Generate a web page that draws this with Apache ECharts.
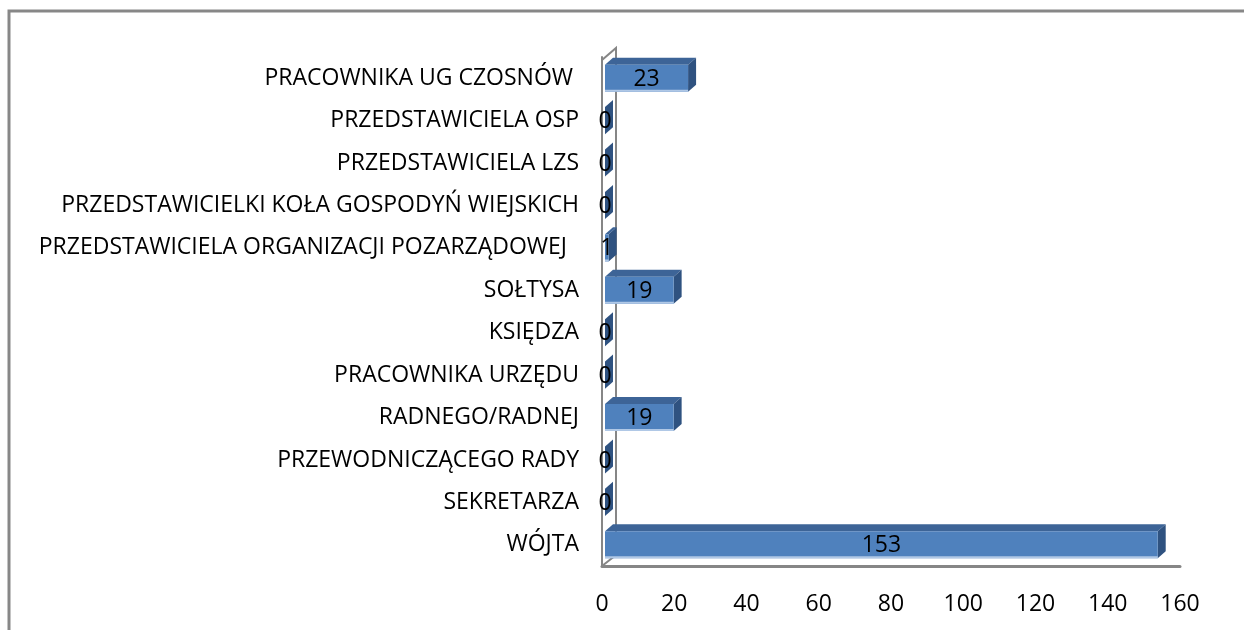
<!DOCTYPE html>
<html>
<head>
<meta charset="utf-8">
<script src="https://cdn.jsdelivr.net/npm/echarts@6/dist/echarts.min.js"></script>
<style>html,body{margin:0;padding:0;background:#fff;}#c{width:1244px;height:630px;}</style>
</head>
<body>
<div id="c"></div>
<script>
const categories = ['WÓJTA','SEKRETARZA','PRZEWODNICZĄCEGO RADY','RADNEGO/RADNEJ','PRACOWNIKA URZĘDU','KSIĘDZA','SOŁTYSA','PRZEDSTAWICIELA ORGANIZACJI POZARZĄDOWEJ  ','PRZEDSTAWICIELKI KOŁA GOSPODYŃ WIEJSKICH','PRZEDSTAWICIELA LZS','PRZEDSTAWICIELA OSP','PRACOWNIKA UG CZOSNÓW '];
const values = [153,0,0,19,0,0,19,1,0,0,0,23];
const xTicks = {min:0, max:160, interval:20};

const chart = echarts.init(document.getElementById('c'));
const FONT = 'Open Sans';
const FS = 23;
const GRAY = '#868686';
const dx = 8, dy = 7;

function renderItem(params, api) {
  const cat = api.value(1), val = api.value(0);
  const s = api.coord([0, cat]);
  const e = api.coord([val, cat]);
  const band = api.size([0, 1])[1];
  const h = band * 0.64;
  const x0 = s[0] + 3, x1 = e[0] + 3;
  const yc = s[1];
  const yT = yc - h / 2, yB = yc + h / 2;
  const children = [];
  if (params.dataIndex === 0) {
    const cs = params.coordSys;
    const left = cs.x, top = cs.y, bottom = cs.y + cs.height;
    children.push({type:'polyline', silent:true, shape:{points:[[left, top+3],[left+14, top-9],[left+14, bottom-11],[left, bottom]]}, style:{stroke:GRAY, lineWidth:2, fill:null}});
  }
  children.push({type:'polygon', shape:{points:[[x0,yT],[x1,yT],[x1+dx,yT-dy],[x0+dx,yT-dy]]}, style:{fill:'#3d6497'}});
  children.push({type:'polygon', shape:{points:[[x1,yT],[x1+dx,yT-dy],[x1+dx,yB-dy],[x1,yB]]}, style:{fill:'#2f5280'}});
  children.push({type:'rect', shape:{x:x0, y:yT, width:Math.max(0,x1-x0), height:h}, style:{fill:'#4f81bd'}});
  children.push({type:'rect', shape:{x:x0, y:yB-2, width:Math.max(0,x1-x0), height:2}, style:{fill:'#b0c8e6'}});
  children.push({type:'text', style:{text:String(val), x:(x0+x1)/2, y:yc+1, align:'center', verticalAlign:'middle', fontSize:FS, fontFamily:FONT, fill:'#000'}});
  return {type:'group', children};
}

chart.setOption({
  animation:false,
  backgroundColor:'#fff',
  textStyle:{fontFamily:FONT},
  graphic:[{type:'rect', shape:{x:9, y:11, width:1400, height:800}, style:{fill:null, stroke:'#878787', lineWidth:3}, z:-10}],
  grid:{left:602, width:578, top:57, bottom:64, containLabel:false},
  xAxis:{type:'value', min:xTicks.min, max:xTicks.max, interval:xTicks.interval,
    splitLine:{show:false}, axisTick:{show:false},
    axisLine:{show:true, lineStyle:{color:GRAY, width:3}},
    axisLabel:{fontSize:FS, color:'#000', margin:27, fontFamily:FONT}},
  yAxis:{type:'category', data:categories,
    axisTick:{show:false},
    axisLine:{show:true, lineStyle:{color:GRAY, width:2}},
    axisLabel:{fontSize:FS, color:'#000', margin:23, fontFamily:FONT, padding:[6,0,0,0]}},
  series:[{type:'custom', renderItem, clip:false,
    encode:{x:0, y:1},
    data: values.map((v,i)=>[v,i])}]
});
</script>
</body>
</html>
